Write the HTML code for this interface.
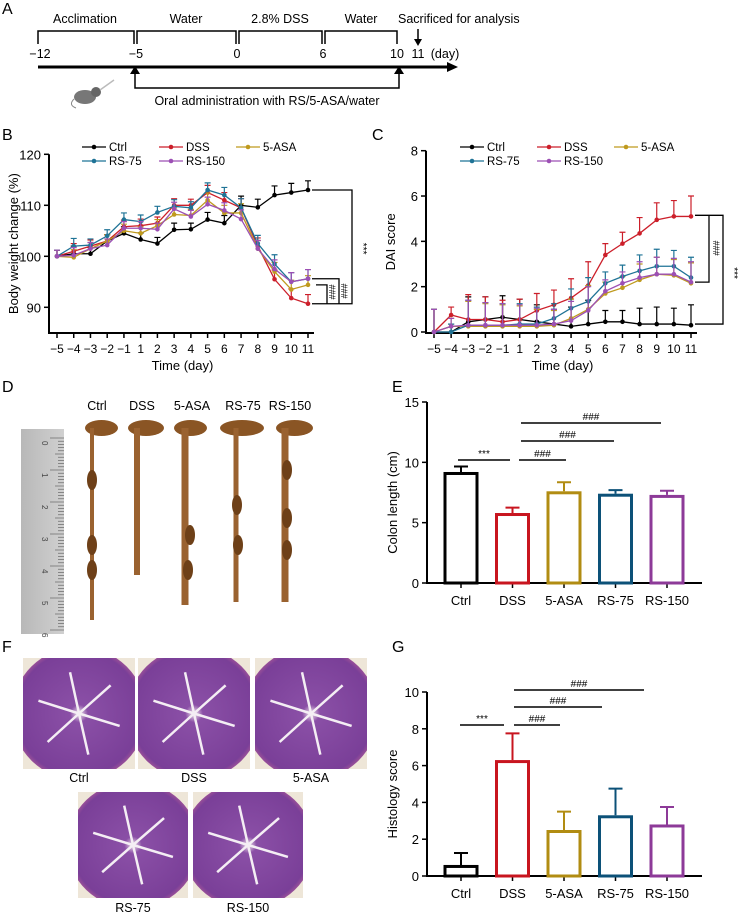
<!DOCTYPE html>
<html><head><meta charset="utf-8">
<style>
html,body{margin:0;padding:0;background:#fff;}
svg{display:block;font-family:"Liberation Sans",Arial,sans-serif;}
</style></head>
<body>
<svg id="fig" width="741" height="920" viewBox="0 0 741 920" xmlns="http://www.w3.org/2000/svg">
<defs>
<radialGradient id="tis" cx="50%" cy="50%" r="55%">
<stop offset="0" stop-color="#f2e6ee"/><stop offset="0.12" stop-color="#8a4fa6"/><stop offset="0.85" stop-color="#7a3f98"/><stop offset="1" stop-color="#c86a9a"/>
</radialGradient>
<linearGradient id="ruler" x1="0" x2="1"><stop offset="0" stop-color="#b8b8b8"/><stop offset="1" stop-color="#d0d0d0"/></linearGradient>
</defs>
<g id="panelA" font-size="12.5">
<text x="2" y="14" font-size="16">A</text>
<text x="85" y="23" text-anchor="middle">Acclimation</text>
<text x="186" y="23" text-anchor="middle">Water</text>
<text x="280" y="23" text-anchor="middle">2.8% DSS</text>
<text x="361" y="23" text-anchor="middle">Water</text>
<text x="398" y="23">Sacrificed for analysis</text>
<g fill="none" stroke="#000" stroke-width="1.5">
<path d="M38,44V31H134V44"/><path d="M137,44V31H236V44"/><path d="M239,44V31H322V44"/><path d="M325,44V31H397V44"/>
<path d="M418,29V40"/>
<path d="M135,72V88H399V72"/>
</g>
<path d="M38,67H448" stroke="#000" stroke-width="3"/>
<path d="M447,62L458,67L447,72Z" fill="#000"/>
<path d="M414,39L418,46L422,39Z" fill="#000"/>
<path d="M130,74L135,66L140,74Z" fill="#000"/><path d="M394,74L399,66L404,74Z" fill="#000"/>
<g text-anchor="middle">
<text x="40" y="58">−12</text><text x="136" y="58">−5</text><text x="237" y="58">0</text><text x="323" y="58">6</text><text x="397" y="58">10</text><text x="418" y="58">11</text><text x="445" y="58">(day)</text>
</g>
<text x="267" y="105" text-anchor="middle">Oral administration with RS/5-ASA/water</text>
<g>
<ellipse cx="85" cy="97" rx="11" ry="7" fill="#777"/><circle cx="96" cy="92" r="5" fill="#666"/><path d="M74,99q-6,6 2,9" stroke="#888" fill="none"/>
<path d="M100,90L114,80" stroke="#bbb" stroke-width="1.5"/>
</g>
</g>
<g id="panelB"></g>
<g id="panelC"></g>
<g id="panelD">
<text x="2" y="392" font-size="16">D</text>
<rect x="21" y="429" width="43" height="205" fill="url(#ruler)"/>
<g font-size="12.5" text-anchor="middle">
<text x="97" y="410">Ctrl</text><text x="142" y="410">DSS</text><text x="192" y="410">5-ASA</text><text x="243" y="410">RS-75</text><text x="290" y="410">RS-150</text>
</g>
</g>
<g id="panelE"></g>
<g id="panelF">
<text x="2" y="652" font-size="16">F</text>
</g>
<g id="panelG"></g>
</svg>
<script>
const NS="http://www.w3.org/2000/svg";
function mk(parent,tag,attrs,txt){const e=document.createElementNS(NS,tag);for(const k in attrs)e.setAttribute(k,attrs[k]);if(txt!==undefined)e.textContent=txt;parent.appendChild(e);return e;}
const groups=["Ctrl","DSS","5-ASA","RS-75","RS-150"];
const lineColors=["#000000","#cc1f2a","#bf9a1e","#1f7396","#9c4fb4"];
const barColors=["#000000","#c8151f","#b18c12","#0c5178","#8d3a98"];
const days=[-5,-4,-3,-2,-1,1,2,3,4,5,6,7,8,9,10,11];
const dayTicks=[-5,-4,-3,-2,-1,1,2,3,4,5,6,7,8,9,10,11];
// Body weight (%)
const bwCtrl=[100,100.5,100.5,103,104.5,103.3,102.5,105.2,105.3,107.2,106.5,110,109.6,112,112.5,113];
const bwDSS=[100,101,102,103,105.8,106,106.5,110,110,112.5,111,109.5,102,95.5,91.8,90.7];
const bwASA=[100,99.8,101.5,103,105,104.5,106,108.2,108,111,108.5,108.5,101.5,97,93.5,94.4];
const bwRS75=[100,102,102.2,104,107.2,106.8,108.6,109.8,109.5,113,112,109.5,102.5,98.5,95,95.6];
const bwRS150=[100,100.2,101.5,102.2,105.5,105.5,105.3,109.3,107.8,110.2,109,107.3,101.5,97.5,95,95.6];
const bwErr=[1.2,1.5,1.2,1.2,1.3,1.3,1.2,1.3,1.2,1.4,1.5,1.8,1.6,1.8,1.8,1.8];
const bwTicks=[90,100,110,120];
// DAI
const daiCtrl=[0,0,0.45,0.55,0.65,0.55,0.45,0.35,0.25,0.35,0.45,0.45,0.35,0.35,0.35,0.3];
const daiDSS=[0,0.75,0.55,0.55,0.45,0.55,0.95,1.2,1.5,2.05,3.4,3.9,4.35,4.95,5.1,5.1];
const daiASA=[0,0.25,0.25,0.25,0.25,0.25,0.25,0.3,0.6,1.0,1.7,1.95,2.3,2.55,2.5,2.15];
const daiRS75=[0,0,0.3,0.3,0.3,0.35,0.35,0.6,1.05,1.35,2.15,2.45,2.7,2.9,2.9,2.4];
const daiRS150=[0,0.25,0.3,0.3,0.3,0.3,0.3,0.35,0.5,0.95,1.8,2.15,2.4,2.55,2.55,2.2];
const daiErr=[1,0.35,1.1,1,0.95,0.9,0.75,0.65,0.85,1.05,0.5,0.5,0.7,0.75,0.7,0.9];
const daiTicks=[0,2,4,6,8];
// Colon length
const colonLen=[9.2,5.8,7.6,7.4,7.3];
const colonErr=[0.45,0.45,0.75,0.3,0.35];
const colonTicks=[0,5,10,15];
// Histology
const histo=[0.6,6.3,2.5,3.3,2.8];
const histoErr=[0.65,1.45,1.0,1.45,0.95];
const histoTicks=[0,2,4,6,8,10];

function lineChart(g,cfg){
  const sx=d=>cfg.x0+(days.indexOf(d))*(cfg.x1-cfg.x0)/(days.length-1);
  const sy=v=>cfg.y0+(v-cfg.vmin)*(cfg.yTop-cfg.y0)/(cfg.vmax-cfg.vmin);
  mk(g,"text",{x:cfg.lx,y:cfg.ly,"font-size":16},cfg.letter);
  const topV=cfg.ticks[cfg.ticks.length-1];
  const ax=mk(g,"path",{d:`M${cfg.ax},${sy(topV)}V${cfg.axy}H${cfg.x1+6}`,stroke:"#000","stroke-width":2,fill:"none"});
  
  
  cfg.ticks.forEach(t=>{const y=sy(t);mk(g,"path",{d:`M${cfg.ax-5},${y}H${cfg.ax}`,stroke:"#000","stroke-width":1.5});
    const tl=mk(g,"text",{x:cfg.ax-8,y:y+5,"font-size":13,"text-anchor":"end"},t);
    
    });
  dayTicks.forEach(d=>{const x=sx(d);mk(g,"path",{d:`M${x},${cfg.axy}V${cfg.axy+5}`,stroke:"#000","stroke-width":1.5});
    const tl=mk(g,"text",{x:x,y:cfg.axy+20,"font-size":12,"text-anchor":"middle"},d<0?"−"+(-d):d);
    
    });
  const xt=mk(g,"text",{x:(cfg.x0+cfg.x1)/2,y:cfg.axy+37,"font-size":13,"text-anchor":"middle"},"Time (day)");
  
  
  const yc=(cfg.axy+sy(topV))/2;
  const yt=mk(g,"text",{x:0,y:0,"font-size":13,"text-anchor":"middle",transform:`translate(${cfg.ytx},${yc}) rotate(-90)`},cfg.ytitle);
  
  
  cfg.series.forEach((s,i)=>{
    const col=lineColors[i];
    const sg=mk(g,"g",{});
    
    
    s.forEach((v,j)=>{const x=sx(days[j]),y=sy(v),ye=sy(v+cfg.err[j]);
      mk(sg,"path",{d:`M${x},${y}V${ye}M${x-3},${ye}H${x+3}`,stroke:col,"stroke-width":1.2});});
    mk(sg,"polyline",{points:s.map((v,j)=>sx(days[j])+","+sy(v)).join(" "),fill:"none",stroke:col,"stroke-width":1.3});
    s.forEach((v,j)=>{mk(sg,"circle",{cx:sx(days[j]),cy:sy(v),r:2.3,fill:col});});
  });
  const lg=[[0,0],[1,0],[2,0],[0,1],[1,1]];
  lg.forEach((p,i)=>{const x=cfg.legx+p[0]*77,y=cfg.legy+p[1]*14;
    const le=mk(g,"g",{});
    
    
    mk(le,"path",{d:`M${x},${y}H${x+24}`,stroke:lineColors[i],"stroke-width":1.3});
    mk(le,"circle",{cx:x+12,cy:y,r:2.3,fill:lineColors[i]});
    mk(le,"text",{x:x+27,y:y+4,"font-size":11.5},groups[i]);});
  return {sx,sy};
}
const B=lineChart(document.getElementById("panelB"),{letter:"B",lx:2,ly:140,x0:57,x1:308,ax:49,axy:333,y0:256.3,yTop:205.3,vmin:100,vmax:110,ticks:bwTicks,ytx:18,ytitle:"Body weight change (%)",series:[bwCtrl,bwDSS,bwASA,bwRS75,bwRS150],err:bwErr,legx:82,legy:147});
(function(){const g=document.getElementById("panelB"),sy=B.sy;
  const s=`M312,${sy(113)}H352V${sy(90.7)}H312 M312,${sy(95.6)}H339V${sy(90.7)} M316,${sy(94.4)}H327V${sy(90.7)}`;
  const br=mk(g,"path",{d:s,stroke:"#000","stroke-width":1.3,fill:"none"});
  
  
  mk(g,"text",{x:0,y:0,"font-size":10,"text-anchor":"middle",transform:`translate(360,${sy(101.5)}) rotate(90)`},"***");
  mk(g,"text",{x:0,y:0,"font-size":9,"text-anchor":"middle",transform:`translate(329,${sy(93)}) rotate(90)`},"###");
  mk(g,"text",{x:0,y:0,"font-size":9,"text-anchor":"middle",transform:`translate(341,${sy(93.2)}) rotate(90)`},"###");
})();
const C=lineChart(document.getElementById("panelC"),{letter:"C",lx:372,ly:140,x0:434,x1:691,ax:426,axy:333,y0:332,yTop:150.7,vmin:0,vmax:8,ticks:daiTicks,ytx:395,ytitle:"DAI score",series:[daiCtrl,daiDSS,daiASA,daiRS75,daiRS150],err:daiErr,legx:460,legy:147});
(function(){const g=document.getElementById("panelC"),sy=C.sy;
  const br=mk(g,"path",{d:`M695,${sy(5.15)}H723V${sy(0.35)}H695 M695,${sy(2.2)}H709V${sy(5.15)}`,stroke:"#000","stroke-width":1.3,fill:"none"});
  
  
  mk(g,"text",{x:0,y:0,"font-size":9,"text-anchor":"middle",transform:`translate(713,${sy(3.7)}) rotate(90)`},"###");
  mk(g,"text",{x:0,y:0,"font-size":10,"text-anchor":"middle",transform:`translate(731,${sy(2.6)}) rotate(90)`},"***");
})();

function barChart(g,cfg){
  const cx=i=>cfg.x0+i*cfg.step;
  const sy=v=>cfg.y0-(v-0)*(cfg.y0-cfg.yTop)/cfg.vmax;
  mk(g,"text",{x:cfg.lx,y:cfg.ly,"font-size":16},cfg.letter);
  const ax=mk(g,"path",{d:`M${cfg.ax},${sy(cfg.vmax)}V${cfg.y0}H${cfg.xend}`,stroke:"#000","stroke-width":2,fill:"none"});
  
  
  cfg.ticks.forEach(t=>{const y=sy(t);mk(g,"path",{d:`M${cfg.ax-5},${y}H${cfg.ax}`,stroke:"#000","stroke-width":1.5});
    const tl=mk(g,"text",{x:cfg.ax-8,y:y+5,"font-size":13,"text-anchor":"end"},t);
    
    });
  const yt=mk(g,"text",{x:0,y:0,"font-size":13,"text-anchor":"middle",transform:`translate(${cfg.ytx},${(cfg.y0+sy(cfg.vmax))/2+10}) rotate(-90)`},cfg.ytitle);
  
  
  cfg.vals.forEach((v,i)=>{const x=cx(i),w=cfg.bw,col=barColors[i];
    mk(g,"path",{d:`M${x},${cfg.y0}V${cfg.y0+5}`,stroke:"#000","stroke-width":1.5});
    const ye=sy(v+cfg.err[i]);
    mk(g,"path",{d:`M${x},${sy(v)}V${ye}M${x-7},${ye}H${x+7}`,stroke:col,"stroke-width":2});
    const r=mk(g,"rect",{x:x-w/2+1.5,y:sy(v)+1.5,width:w-3,height:cfg.y0-sy(v)-1.5,fill:"none",stroke:col,"stroke-width":3});
    
    
    const tl=mk(g,"text",{x:x,y:cfg.y0+22,"font-size":13,"text-anchor":"middle"},groups[i]);
    
    });
  const sg=mk(g,"g",{});
  
  
  cfg.sig.forEach(s=>{mk(sg,"path",{d:`M${s[0]},${s[2]}H${s[1]}`,stroke:"#000","stroke-width":1.5});
    mk(sg,"text",{x:(s[0]+s[1])/2,y:s[2]-3,"font-size":10,"text-anchor":"middle"},s[3]);});
}
barChart(document.getElementById("panelE"),{letter:"E",lx:392,ly:392,x0:461,step:51.5,bw:35,ax:427,y0:583,yTop:402,vmax:15,xend:702,ticks:colonTicks,ytx:397,ytitle:"Colon length (cm)",vals:colonLen,err:colonErr,
  sig:[[458,510,460,"***"],[519,566,460,"###"],[521,614,441,"###"],[521,661,423,"###"]]});
barChart(document.getElementById("panelG"),{letter:"G",lx:392,ly:652,x0:461,step:51.5,bw:35,ax:427,y0:876,yTop:692,vmax:10,xend:702,ticks:histoTicks,ytx:397,ytitle:"Histology score",vals:histo,err:histoErr,
  sig:[[460,504,725,"***"],[514,560,725,"###"],[514,602,707,"###"],[514,644,690,"###"]]});

(function(){const g=document.getElementById("panelD");
  for(let i=0;i<=60;i++){const y=438+i*3.2;mk(g,"path",{d:`M${i%10==0?50:(i%5==0?55:58)},${y}H64`,stroke:"#555","stroke-width":0.6});}
  for(let i=0;i<=6;i++){mk(g,"text",{x:0,y:0,"font-size":8,fill:"#444",transform:`translate(42,${438+i*32+3}) rotate(90)`},i);}
  const colons=[[92,620,2],[137,575,3],[185,605,3.5],[236,602,2.5],[285,602,3.5]];
  const heads=[[85,118],[128,164],[174,207],[220,264],[276,313]];
  colons.forEach((c,i)=>{const h=heads[i];
    const el=mk(g,"g",{});
    
    
    mk(el,"ellipse",{cx:(h[0]+h[1])/2,cy:428,rx:(h[1]-h[0])/2,ry:8,fill:"#8a5524"});
    mk(el,"rect",{x:c[0]-c[2],y:428,width:c[2]*2,height:c[1]-428,fill:"#9a6230"});});
  [[92,480],[92,545],[92,570],[190,535],[188,570],[237,505],[238,545],[287,470],[287,518],[287,550]].forEach(p=>mk(g,"ellipse",{cx:p[0],cy:p[1],rx:5,ry:10,fill:"#6e4018"}));
})();
(function(){const g=document.getElementById("panelF");
  const defs=document.querySelector("defs");
  const imgs=[[23,658,112,111,"Ctrl"],[138,658,112,111,"DSS"],[255,658,112,111,"5-ASA"],[78,792,110,106,"RS-75"],[193,792,110,106,"RS-150"]];
  imgs.forEach((im,n)=>{
    const cp=mk(defs,"clipPath",{id:"clip"+n});
    mk(cp,"rect",{x:im[0],y:im[1],width:im[2],height:im[3]});
    const ig=mk(g,"g",{"clip-path":`url(#clip${n})`});
    
    
    mk(ig,"rect",{x:im[0],y:im[1],width:im[2],height:im[3],fill:"#eee6d8"});
    mk(ig,"ellipse",{cx:im[0]+im[2]/2,cy:im[1]+im[3]/2,rx:im[2]*0.6,ry:im[3]*0.6,fill:"url(#tis)"});
    const cx=im[0]+im[2]/2,cy=im[1]+im[3]/2;
    for(let k=0;k<6;k++){const a=k*1.05+0.3;mk(ig,"path",{d:`M${cx},${cy}L${cx+Math.cos(a)*im[2]*0.38},${cy+Math.sin(a)*im[3]*0.38}`,stroke:"#f4eef4","stroke-width":2.5});}
  });
  [[79,782,"Ctrl"],[194,782,"DSS"],[311,782,"5-ASA"],[133,912,"RS-75"],[248,912,"RS-150"]].forEach(l=>mk(g,"text",{x:l[0],y:l[1],"font-size":12.5,"text-anchor":"middle"},l[2]));
})();
</script>
</body></html>
